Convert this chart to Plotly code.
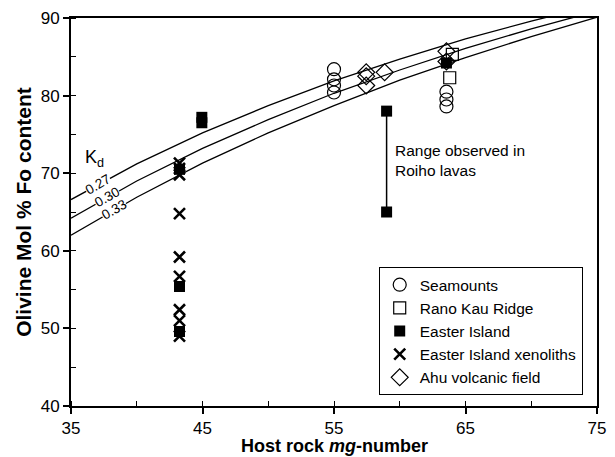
import plotly.graph_objects as go

# Olivine-melt Fe-Mg exchange curves, Fo (mol %) at selected host-rock mg-numbers
kd_mg = [35, 40, 45, 50, 55, 60, 65, 70, 75]
kd_027 = [66.6, 71.2, 75.2, 78.7, 81.9, 84.7, 87.3, 89.6, 91.7]
kd_030 = [64.2, 69.0, 73.2, 76.9, 80.3, 83.3, 86.1, 88.6, 90.9]
kd_033 = [62.0, 66.9, 71.3, 75.2, 78.7, 82.0, 84.9, 87.6, 90.1]
kd_labels = ["0.27", "0.30", "0.33"]
kd_label_mg = [37.05, 37.7, 38.3]
kd_label_fo = [68.5, 66.9, 65.3]

# Sample groups: host rock mg-number vs olivine Fo content
seamounts_mg = [55.0, 55.0, 55.0, 55.0, 63.55, 63.55, 63.55]
seamounts_fo = [83.4, 82.1, 81.3, 80.4, 80.5, 79.5, 78.6]

rano_kau_mg = [64.0, 63.8]
rano_kau_fo = [85.3, 82.3]

easter_mg = [43.25, 43.25, 43.25, 44.95, 44.95, 63.55]
easter_fo = [70.5, 55.4, 49.6, 77.2, 76.5, 84.2]

xenolith_mg = [43.25, 43.25, 43.25, 43.25, 43.25, 43.25, 43.25, 43.25, 43.25]
xenolith_fo = [71.3, 70.6, 69.8, 64.8, 59.2, 56.7, 52.4, 51.0, 49.0]

ahu_mg = [57.45, 57.45, 57.45, 58.85, 63.55, 63.55]
ahu_fo = [83.0, 82.5, 81.3, 83.0, 85.7, 84.4]

# Range of olivine compositions in Roiho lavas
roiho_mg = [59.0, 59.0]
roiho_fo = [65.0, 78.0]

FONT = "Liberation Sans, Arial, Helvetica, sans-serif"

fig = go.Figure()

for fo in (kd_027, kd_030, kd_033):
    fig.add_trace(go.Scatter(
        x=kd_mg, y=fo, mode="lines", showlegend=False, hoverinfo="skip",
        line=dict(color="black", width=1.3),
    ))

fig.add_trace(go.Scatter(
    x=roiho_mg, y=roiho_fo, mode="lines", showlegend=False,
    line=dict(color="black", width=1.5),
))

fig.add_trace(go.Scatter(
    x=seamounts_mg, y=seamounts_fo, mode="markers", name="Seamounts",
    marker=dict(symbol="circle-open", size=13, color="black", line=dict(width=1.2)),
))
fig.add_trace(go.Scatter(
    x=rano_kau_mg, y=rano_kau_fo, mode="markers", name="Rano Kau Ridge",
    marker=dict(symbol="square-open", size=12, color="black", line=dict(width=1.2)),
))
fig.add_trace(go.Scatter(
    x=easter_mg + roiho_mg, y=easter_fo + roiho_fo, mode="markers", name="Easter Island",
    marker=dict(symbol="square", size=11, color="black"),
))
fig.add_trace(go.Scatter(
    x=xenolith_mg, y=xenolith_fo, mode="markers", name="Easter Island xenoliths",
    marker=dict(symbol="x-thin-open", size=11, color="black", line=dict(width=2.6, color="black")),
))
fig.add_trace(go.Scatter(
    x=ahu_mg, y=ahu_fo, mode="markers", name="Ahu volcanic field",
    marker=dict(symbol="diamond-open", size=13, color="black", line=dict(width=1.2)),
))

# Kd value labels sitting on their curves
for txt, xm, yf in zip(kd_labels, kd_label_mg, kd_label_fo):
    fig.add_annotation(
        x=xm, y=yf, text=txt, showarrow=False, textangle=-30,
        font=dict(family=FONT, size=13.5, color="black"),
        bgcolor="white", borderpad=0,
    )

fig.add_annotation(
    x=36.75, y=71.9, text="K<sub>d</sub>", showarrow=False,
    font=dict(family=FONT, size=18, color="black"),
)

fig.add_annotation(
    x=59.5, y=71.6, text="Range observed in<br>Roiho lavas", showarrow=False,
    xanchor="left", align="left",
    font=dict(family=FONT, size=15.5, color="black"),
)

# x-axis title placed below the tick labels
fig.add_annotation(
    xref="paper", yref="paper", x=0.5, y=-0.104, yanchor="middle",
    text="<b>Host rock <i>mg</i>-number</b>", showarrow=False,
    font=dict(family=FONT, size=18, color="black"),
)

axis_common = dict(
    showgrid=False, zeroline=False, showline=True, linecolor="black", linewidth=1.8,
    mirror=True, ticks="outside", ticklen=6, tickwidth=1.5, tickcolor="black",
    tickfont=dict(family=FONT, size=17, color="black"), automargin=False,
)

fig.update_xaxes(
    range=[35, 75], tick0=35, dtick=10,
    minor=dict(ticks="inside", dtick=5, ticklen=5, tickwidth=1.2, tickcolor="black"),
    **axis_common,
)
fig.update_yaxes(
    range=[40, 90], tick0=40, dtick=10,
    minor=dict(ticks="inside", dtick=5, ticklen=5, tickwidth=1.2, tickcolor="black"),
    title=dict(text="<b>Olivine Mol % Fo content</b>", standoff=3,
               font=dict(family=FONT, size=21, color="black")),
    **axis_common,
)

fig.update_layout(
    width=615, height=457,
    margin=dict(l=71, r=18, t=18, b=51),
    paper_bgcolor="white", plot_bgcolor="white",
    font=dict(family=FONT, color="black"),
    legend=dict(
        x=0.585, y=0.028, xanchor="left", yanchor="bottom",
        bordercolor="black", borderwidth=1, bgcolor="white",
        font=dict(family=FONT, size=15.5, color="black"),
        itemwidth=30, tracegroupgap=0,
    ),
)

fig.write_html("out.html")
